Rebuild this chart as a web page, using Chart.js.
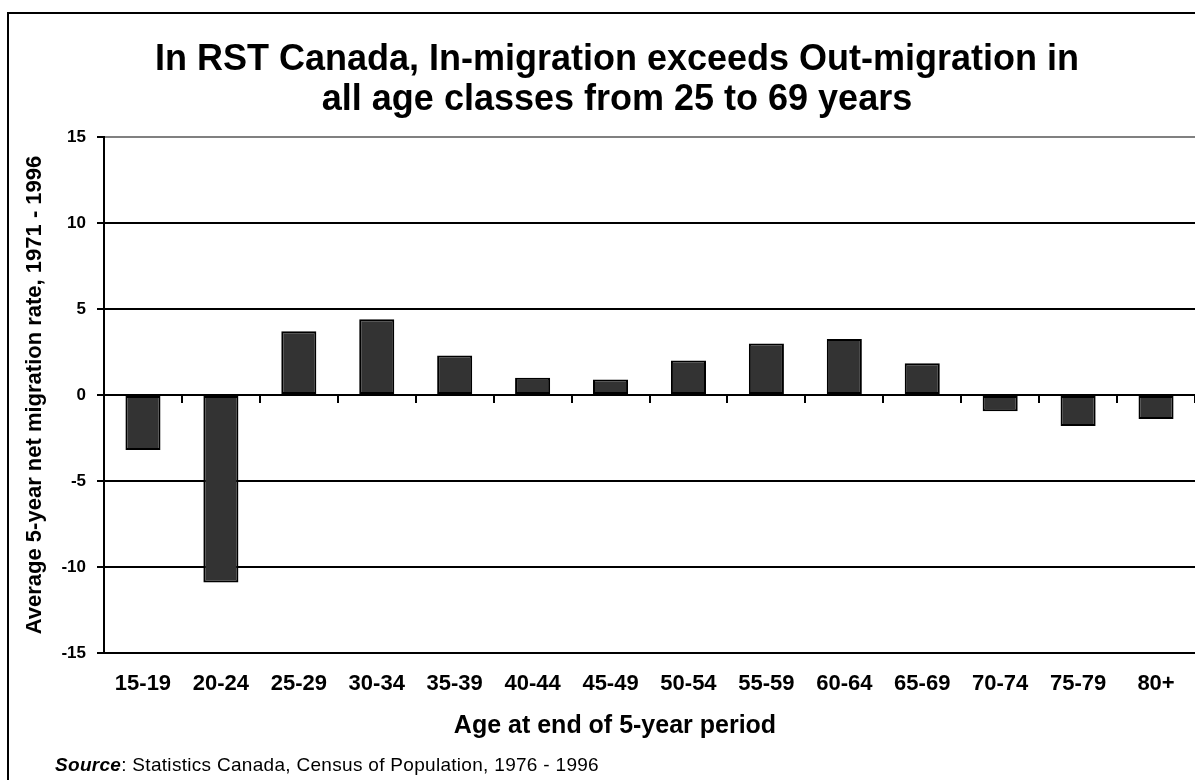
<!DOCTYPE html>
<html>
<head>
<meta charset="utf-8">
<script src="https://cdn.jsdelivr.net/npm/chart.js@4.4.1/dist/chart.umd.min.js"></script>
<style>
html, body { margin: 0; padding: 0; background: #fff; overflow: hidden; }
</style>
</head>
<body>
<canvas id="myChart" width="1195" height="780"></canvas>
<script>
var ageGroups = ['15-19', '20-24', '25-29', '30-34', '35-39', '40-44', '45-49', '50-54', '55-59', '60-64', '65-69', '70-74', '75-79', '80+'];
var netMigration = [-3.2, -10.9, 3.7, 4.4, 2.3, 1.0, 0.9, 2.0, 3.0, 3.25, 1.85, -0.95, -1.8, -1.4];
var yTicks = [-15, -10, -5, 0, 5, 10, 15];

var titleLines = ['In RST Canada, In-migration exceeds Out-migration in', 'all age classes from 25 to 69 years'];
var xTitle = 'Age at end of 5-year period';
var yTitle = 'Average 5-year net migration rate, 1971 - 1996';
var sourceLabel = 'Source';
var sourceText = ': Statistics Canada, Census of Population, 1976 - 1996';

var fontFamily = '"Liberation Sans", Arial, sans-serif';
Chart.defaults.font.family = fontFamily;
Chart.defaults.color = '#000';

// frame, main title, x title and source line
var frameAndText = {
  id: 'frameAndText',
  afterDraw: function (chart) {
    var c = chart.ctx;
    c.save();
    c.strokeStyle = '#000';
    c.lineWidth = 2;
    c.strokeRect(8, 13, 1400, 1000);
    c.fillStyle = '#000';
    c.textAlign = 'center';
    c.textBaseline = 'alphabetic';
    c.font = 'bold 36px ' + fontFamily;
    c.fillText(titleLines[0], 617, 70);
    c.fillText(titleLines[1], 617, 110);
    c.font = 'bold 25px ' + fontFamily;
    c.fillText(xTitle, 615, 733);
    c.textAlign = 'left';
    c.letterSpacing = '0.3px';
    c.font = 'italic bold 19px ' + fontFamily;
    c.fillText(sourceLabel, 55, 771);
    var w = c.measureText(sourceLabel).width;
    c.font = '19px ' + fontFamily;
    c.fillText(sourceText, 55 + w, 771);
    c.restore();
  }
};

var ctx = document.getElementById('myChart').getContext('2d');
var myChart = new Chart(ctx, {
  type: 'bar',
  data: {
    labels: ageGroups,
    datasets: [{
      label: 'Net migration rate',
      data: netMigration,
      backgroundColor: '#333333',
      borderColor: '#000',
      borderWidth: 2,
      borderSkipped: false,
      barPercentage: 0.45,
      categoryPercentage: 1
    }]
  },
  options: {
    responsive: false,
    animation: false,
    events: [],
    layout: { padding: { left: 0, top: 137, right: 0, bottom: 0 } },
    plugins: {
      legend: { display: false },
      title: { display: false },
      tooltip: { enabled: false }
    },
    scales: {
      x: {
        type: 'category',
        grid: { display: false, drawTicks: false },
        border: { display: true, color: '#000', width: 2 },
        ticks: { padding: 18, font: { size: 22, weight: 'bold' }, maxRotation: 0, autoSkip: false },
        afterFit: function (scale) { scale.height = 127; }
      },
      x0: {
        type: 'category',
        position: { y: 0 },
        offset: true,
        grid: { offset: true, drawOnChartArea: false, drawTicks: true, tickLength: 7, color: '#000', lineWidth: 2 },
        border: { display: true, color: '#000', width: 2 },
        ticks: { display: false }
      },
      y: {
        min: yTicks[0],
        max: yTicks[yTicks.length - 1],
        ticks: { stepSize: yTicks[1] - yTicks[0], padding: 11, font: { size: 17, weight: 'bold' } },
        grid: {
          color: function (c) { return c.tick && c.tick.value === yTicks[yTicks.length - 1] ? '#808080' : '#000'; },
          lineWidth: 2,
          tickLength: 7,
          tickColor: '#000'
        },
        border: { display: true, color: '#000', width: 2 },
        title: { display: true, text: yTitle, font: { size: 22, weight: 'bold' }, padding: { top: 22, bottom: 0 } },
        afterFit: function (scale) { scale.width = 104; }
      }
    }
  },
  plugins: [frameAndText]
});
</script>
</body>
</html>
